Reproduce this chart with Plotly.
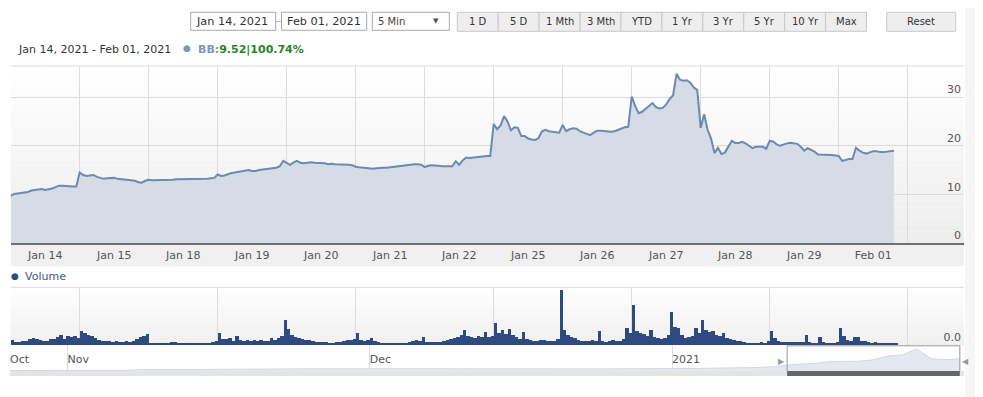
import plotly.graph_objects as go
import pandas as pd

W, H = 983, 397
OX, OY = 8, 8  # page body margin of the browser

# ---------------- data ----------------
day_labels = ["Jan 14", "Jan 15", "Jan 18", "Jan 19", "Jan 20", "Jan 21", "Jan 22",
              "Jan 25", "Jan 26", "Jan 27", "Jan 28", "Jan 29", "Feb 01"]
samples_per_day = 20  # intraday samples per session

p_jan14 = [9.7, 10.1, 10.2, 10.3, 10.4, 10.5, 10.8, 10.9, 11.0, 11.1, 10.9, 11.0, 11.2, 11.5, 11.8, 11.8, 11.7, 11.7, 11.6, 11.6]
p_jan15 = [14.5, 14.0, 13.8, 13.9, 14.0, 13.6, 13.4, 13.2, 13.3, 13.4, 13.4, 13.2, 13.1, 13.1, 13.0, 12.9, 12.8, 12.5, 12.4, 12.8]
p_jan18 = [13.0, 12.9, 12.9, 13.0, 13.0, 12.95, 13.0, 13.0, 13.1, 13.1, 13.1, 13.1, 13.1, 13.1, 13.15, 13.2, 13.2, 13.2, 13.3, 13.4]
p_jan19 = [14.1, 13.8, 13.9, 14.2, 14.4, 14.5, 14.6, 14.7, 14.9, 15.0, 14.8, 14.8, 15.0, 15.1, 15.1, 15.2, 15.3, 15.5, 15.8, 16.9]
p_jan20 = [16.5, 16.1, 16.6, 16.9, 16.5, 16.4, 16.5, 16.6, 16.5, 16.5, 16.5, 16.4, 16.2, 16.3, 16.2, 16.2, 16.1, 16.1, 16.1, 16.0]
p_jan21 = [15.7, 15.6, 15.5, 15.4, 15.3, 15.3, 15.4, 15.5, 15.5, 15.5, 15.6, 15.7, 15.8, 15.8, 16.0, 16.1, 16.1, 16.2, 16.2, 16.1]
p_jan22 = [15.6, 15.9, 16.0, 16.0, 15.9, 15.8, 15.8, 15.9, 15.8, 16.8, 16.1, 17.0, 17.6, 17.5, 17.6, 17.7, 17.8, 17.9, 17.9, 17.9]
p_jan25 = [24.5, 23.4, 24.2, 26.1, 25.0, 23.2, 23.8, 23.7, 22.0, 22.0, 21.5, 21.3, 21.2, 21.6, 23.0, 23.3, 23.0, 22.9, 22.8, 22.7]
p_jan26 = [24.3, 23.0, 23.4, 23.6, 23.5, 23.0, 22.7, 22.5, 22.2, 22.7, 23.1, 23.1, 23.0, 22.9, 22.9, 23.0, 23.3, 23.5, 23.8, 23.9]
p_jan27 = [30.1, 28.2, 26.7, 27.0, 27.6, 28.0, 28.8, 28.0, 27.7, 27.8, 28.5, 29.6, 30.4, 34.8, 33.6, 33.4, 33.5, 33.0, 32.0, 31.5]
p_jan28 = [23.7, 26.5, 23.3, 21.5, 18.5, 19.6, 18.3, 18.6, 19.8, 21.0, 20.6, 20.6, 20.8, 20.5, 20.0, 19.5, 19.8, 19.8, 19.8, 19.4]
p_jan29 = [21.0, 20.9, 20.3, 20.0, 20.3, 20.5, 20.6, 20.5, 20.4, 19.8, 19.0, 19.5, 19.2, 18.8, 18.2, 18.2, 18.2, 18.2, 18.1, 18.0]
p_feb01 = [17.9, 16.9, 17.1, 17.3, 17.3, 19.6, 19.0, 18.6, 18.4, 18.7, 18.9, 18.9, 18.7, 18.7, 18.8, 18.9, 19.0]
price_by_day = [p_jan14, p_jan15, p_jan18, p_jan19, p_jan20, p_jan21, p_jan22,
                p_jan25, p_jan26, p_jan27, p_jan28, p_jan29, p_feb01]

# volume (hundred-thousand shares per interval)
v_jan14 = [5, 3.5, 3.5, 4, 4, 6.5, 7.5, 6, 5.5, 4, 4, 6, 6, 8.5, 10, 6, 9, 8, 9, 7]
v_jan15 = [14, 12, 10, 9, 7.5, 5, 4.5, 4, 4, 3.5, 4, 3.5, 3.5, 4, 3.5, 4, 6, 8, 9, 11]
v_jan18 = [1.5, 1.5, 1.5, 2, 2, 1.5, 3, 3, 2.5, 2, 2, 2, 1.5, 1.5, 2, 2, 2, 2.5, 3, 4]
v_jan19 = [12, 6, 6, 7, 4.5, 9, 5, 4.5, 5.5, 4, 5, 4, 5, 4, 4.5, 7, 5.5, 7, 9, 25]
v_jan20 = [16, 10, 8.5, 7, 6, 5, 5, 4, 3.5, 3.5, 3, 3, 2.5, 2.5, 3, 3, 4, 5, 5.5, 6]
v_jan21 = [12, 5, 4.5, 5, 7, 4, 3, 2.5, 2.5, 2, 1.5, 1.5, 2, 2.5, 2.5, 3, 4, 5, 4.5, 8]
v_jan22 = [3, 3.5, 3, 3.5, 3, 4, 5, 6, 7, 8, 10, 15, 9, 8, 7, 9, 8, 13, 8, 9]
v_jan25 = [22, 12, 15, 11, 16, 10, 8, 6, 13, 6, 5, 4, 4.5, 5, 5, 4, 4, 4.5, 6, 55]
v_jan26 = [15, 10, 8, 7, 5, 4.5, 4, 4, 5, 4.5, 14, 4, 3.5, 4, 5, 4, 4.5, 6, 17, 12]
v_jan27 = [40, 14, 12, 11, 9, 15, 8, 7, 6, 7, 10, 33, 18, 17, 10, 7, 8, 9, 17, 12]
v_jan28 = [25, 15, 13, 14, 10, 9, 12, 7, 6, 5, 4.5, 4, 3, 2.5, 2, 2, 2.5, 3.5, 2.5, 4]
v_jan29 = [14, 7, 4, 3.5, 3.5, 3, 3, 3, 3.5, 3.5, 10, 3, 2.5, 2.5, 8, 3, 2.5, 2.5, 2.5, 3]
v_feb01 = [17, 9, 5, 4, 8, 8, 4, 4, 3, 2.5, 3, 2.5, 2, 2, 1.5, 2, 2]
volume_by_day = [v_jan14, v_jan15, v_jan18, v_jan19, v_jan20, v_jan21, v_jan22,
                 v_jan25, v_jan26, v_jan27, v_jan28, v_jan29, v_feb01]

# navigator: daily closes from Oct 26, 2020
nav_holidays = ["2020-12-25", "2020-12-28", "2021-01-01"]
nav_close = [4.6, 4.6, 4.6, 4.7, 4.5,
             4.6, 4.7, 4.8, 4.9, 4.8, 5.6, 5.5, 5.7, 5.6, 5.8, 6.1, 6.0, 6.2, 6.1, 6.2, 6.5, 6.7, 6.8, 6.7, 6.6, 6.5,
             6.6, 6.5, 6.7, 6.8, 6.9, 6.8, 6.7, 6.6, 6.9, 6.8, 6.7, 6.6, 6.5, 6.6, 6.4, 6.5, 6.6, 6.7, 6.6, 6.6, 6.6,
             6.9, 7.1, 7.3, 7.5, 7.6, 7.9, 8.3, 9.45,
             11.6, 12.8, 13.4, 16.0, 16.0, 16.1, 17.9, 22.7, 23.9, 31.5, 19.4, 18.0, 19.0]
nav_tick_dates = ["2020-10-27", "2020-11-02", "2020-12-01", "2021-01-04"]
nav_tick_text = ["Oct", "Nov", "Dec", "2021"]
nav_sel_start, nav_sel_end = "2021-01-14", "2021-02-01"

range_buttons = ["1 D", "5 D", "1 Mth", "3 Mth", "YTD", "1 Yr", "3 Yr", "5 Yr", "10 Yr", "Max"]

# ---------------- derived series ----------------
x_price, y_price = [], []
for d, vals in enumerate(price_by_day):
    for k, v in enumerate(vals):
        x_price.append(d + k / samples_per_day)
        y_price.append(v)
x_vol, y_vol = [], []
for d, vals in enumerate(volume_by_day):
    for k, v in enumerate(vals):
        x_vol.append(d + k / samples_per_day)
        y_vol.append(v)

nav_days = [d for d in pd.bdate_range("2020-10-26", "2021-02-01")
            if d.strftime("%Y-%m-%d") not in nav_holidays]
nav_index = {d.strftime("%Y-%m-%d"): i for i, d in enumerate(nav_days)}
nav_x = list(range(len(nav_days)))
nav_tickvals = [nav_index[t] for t in nav_tick_dates]
sel0, sel1 = nav_index[nav_sel_start], nav_index[nav_sel_end]


def px(x):
    return (x - OX) / W


def py(y):
    return 1 - (y - OY) / H


FONT = "DejaVu Sans, Verdana, sans-serif"
XD = [px(10.7), px(964)]
n_days = len(day_labels)
x_range = [0, (964 - 10.7) / 69.0]

fig = go.Figure()

fig.add_trace(go.Scatter(
    x=x_price, y=y_price, mode="lines", fill="tozeroy",
    line=dict(color="#6a8ab3", width=2), fillcolor="#d5dce6",
    xaxis="x", yaxis="y", hoverinfo="skip", showlegend=False))

fig.add_trace(go.Bar(
    x=x_vol, y=y_vol, offset=0, width=1.0 / samples_per_day,
    marker=dict(color="#2f4a80", line=dict(width=0)),
    xaxis="x3", yaxis="y3", hoverinfo="skip", showlegend=False))

fig.add_trace(go.Scatter(
    x=nav_x, y=nav_close, mode="lines", fill="tozeroy",
    line=dict(color="#d0d8e4", width=1), fillcolor="#e4e9f1",
    xaxis="x4", yaxis="y4", hoverinfo="skip", showlegend=False))

grid_c = "#dcdcdc"
minor_grid = dict(tickmode="linear", tick0=0, dtick=1, showgrid=True,
                  gridcolor=grid_c, gridwidth=1, ticks="")

fig.update_layout(
    width=W, height=H, autosize=False,
    margin=dict(l=0, r=0, t=0, b=0, pad=0),
    paper_bgcolor="white", plot_bgcolor="rgba(0,0,0,0)",
    font=dict(family=FONT, size=11, color="#555555"),
    bargap=0, showlegend=False,
    xaxis=dict(domain=XD, range=x_range, anchor="y",
               tickmode="array", tickvals=[d + 0.5 for d in range(n_days)], ticktext=day_labels,
               ticks="outside", ticklen=1, tickcolor="rgba(0,0,0,0)",
               tickfont=dict(size=11, color="#555555"),
               showgrid=False, minor=minor_grid, zeroline=False,
               showline=True, linecolor="#707070", linewidth=2),
    yaxis=dict(domain=[py(243), py(66)], range=[0, 177 / 4.86], anchor="x",
               side="right", tickmode="array", tickvals=[0, 10, 20, 30],
               ticklabelposition="inside top", tickfont=dict(size=11, color="#555555"),
               showgrid=True, gridcolor=grid_c, zeroline=False, showline=False),
    xaxis2=dict(domain=XD, range=x_range, anchor="y2", matches="x",
                showticklabels=False, showgrid=False, minor=minor_grid, zeroline=False,
                showline=True, linecolor="#707070", linewidth=2),
    yaxis2=dict(domain=[py(266), py(243)], range=[0, 1], anchor="x2",
                visible=False),
    xaxis3=dict(domain=XD, range=x_range, anchor="y3", matches="x",
                showticklabels=False, showgrid=False, minor=minor_grid, zeroline=False,
                showline=False),
    yaxis3=dict(domain=[py(345.3), py(287.3)], range=[0, 58], anchor="x3",
                side="right", tickmode="array", tickvals=[0], ticktext=["0.0"],
                ticklabelposition="inside top", tickfont=dict(size=11, color="#555555"),
                showgrid=False, zeroline=False, showline=False),
    xaxis4=dict(domain=[px(10), px(964)], range=[1.0, 67.29], anchor="y4",
                tickmode="array", tickvals=nav_tickvals, ticktext=nav_tick_text,
                ticklabelposition="inside right", tickfont=dict(size=11, color="#555555"),
                showgrid=True, gridcolor=grid_c, zeroline=False, showline=False, ticks=""),
    yaxis4=dict(domain=[py(371), py(345.3)], range=[4.0, 36.0], anchor="x4",
                visible=False),
)

shapes = []
# light page strip at the right edge
shapes.append(dict(type="rect", xref="paper", yref="paper", x0=px(965), x1=1.0,
                   y0=0, y1=1, fillcolor="#f6f6f6", line=dict(width=0), layer="below"))
# gradient backgrounds
def gradient(y0, y1, c0, c1, n=30):
    for i in range(n):
        a = y0 + (y1 - y0) * i / n
        b = y0 + (y1 - y0) * (i + 1) / n
        c = round(c0 + (c1 - c0) * (i + 0.5) / n)
        shapes.append(dict(type="rect", xref="paper", yref="paper",
                           x0=XD[0], x1=XD[1], y0=py(b), y1=py(a),
                           fillcolor=f"rgb({c},{c},{c})", line=dict(width=0), layer="below"))

gradient(66, 243, 255, 237)
gradient(287.3, 345.3, 255, 238)
shapes.append(dict(type="rect", xref="paper", yref="paper", x0=XD[0], x1=XD[1],
                   y0=py(266), y1=py(243), fillcolor="#f0f0f0", line=dict(width=0), layer="below"))
# panel top borders
for yy in (66, 287.3):
    shapes.append(dict(type="line", xref="paper", yref="paper", x0=XD[0], x1=XD[1],
                       y0=py(yy), y1=py(yy), line=dict(color=grid_c, width=1)))
# navigator scrollbar track and thumb
shapes.append(dict(type="rect", xref="paper", yref="paper", x0=px(10), x1=px(964),
                   y0=py(376), y1=py(371), fillcolor="#e4e4e4", line=dict(width=0)))
shapes.append(dict(type="rect", xref="x4", yref="paper", x0=sel0, x1=sel1,
                   y0=py(376), y1=py(371), fillcolor="#666666", line=dict(width=0)))
# navigator selection outline
for xv in (sel0, sel1):
    shapes.append(dict(type="line", xref="x4", yref="paper", x0=xv, x1=xv,
                       y0=py(371), y1=py(345.5), line=dict(color="#999999", width=1)))
shapes.append(dict(type="line", xref="x4", yref="paper", x0=sel0, x1=sel1,
                   y0=py(345.8), y1=py(345.8), line=dict(color="#999999", width=1)))

# top controls
def box(x0, x1, y0, y1, fill, line):
    shapes.append(dict(type="rect", xref="paper", yref="paper", x0=px(x0), x1=px(x1),
                       y0=py(y1), y1=py(y0), fillcolor=fill, line=dict(color=line, width=1)))

box(190.7, 275.7, 12.3, 30.3, "white", "#a9a9a9")
box(281.5, 366.7, 12.3, 30.3, "white", "#a9a9a9")
shapes.append(dict(type="line", xref="paper", yref="paper", x0=px(276), x1=px(281),
                   y0=py(21.5), y1=py(21.5), line=dict(color="#bbbbbb", width=1)))
box(372.3, 449.3, 12.3, 30.3, "white", "#a9a9a9")
btn_w = (866.5 - 457.3) / len(range_buttons)
for i in range(len(range_buttons)):
    box(457.3 + i * btn_w, 457.3 + (i + 1) * btn_w, 12.3, 31.3, "#eeeeee", "#c8c8c8")
box(886.7, 955.7, 12.3, 31.3, "#eeeeee", "#c8c8c8")

fig.update_layout(shapes=shapes)

ann = []
def text(x, y, s, size=11, color="#333333", anchor="left", **kw):
    ann.append(dict(xref="paper", yref="paper", x=px(x), y=py(y), text=s, showarrow=False,
                    xanchor=anchor, yanchor="middle", font=dict(family=FONT, size=size, color=color), **kw))

text(194, 21.5, "Jan 14, 2021", 11.3)
text(284.5, 21.5, "Feb 01, 2021", 11.3)
text(375.5, 21, "5 Min", 10, "#444444")
text(436, 21, "▼", 7, "#555555", "center")
for i, lab in enumerate(range_buttons):
    text(457.3 + (i + 0.5) * btn_w, 21.8, lab, 10, "#333333", "center")
text(921.2, 21.8, "Reset", 10, "#333333", "center")

text(16, 49, "Jan 14, 2021 - Feb 01, 2021", 11, "#333333")
text(187, 48.5, "●", 9, "#7b97bd", "center")
text(195.5, 49, "<b><span style='color:#7b97bd'>BB:</span><span style='color:#1f8a1f'>9.52|100.74%</span></b>", 11)
text(15, 275.5, "●", 9, "#2f4a80", "center")
text(22.5, 276, "Volume", 11, "#44558a")

# navigator handles
ann.append(dict(xref="x4", yref="paper", x=sel0, y=py(361), text="▶", showarrow=False,
                xanchor="right", yanchor="middle", font=dict(size=8, color="#999999")))
ann.append(dict(xref="x4", yref="paper", x=sel1, y=py(361), text="◀", showarrow=False,
                xanchor="left", yanchor="middle", font=dict(size=8, color="#999999")))

fig.update_layout(annotations=ann)

fig.write_html("out.html")
